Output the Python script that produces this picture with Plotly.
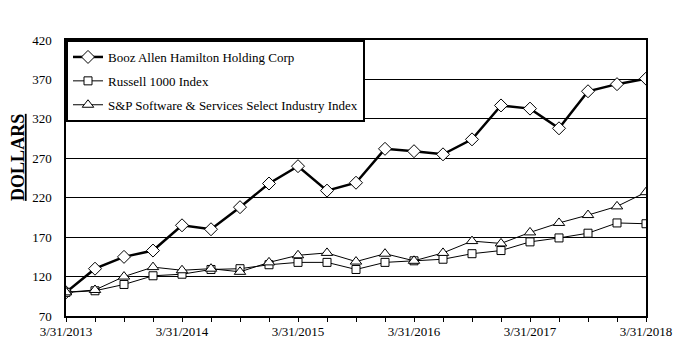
import plotly.graph_objects as go

dates = ["3/31/2013", "6/30/2013", "9/30/2013", "12/31/2013",
         "3/31/2014", "6/30/2014", "9/30/2014", "12/31/2014",
         "3/31/2015", "6/30/2015", "9/30/2015", "12/31/2015",
         "3/31/2016", "6/30/2016", "9/30/2016", "12/31/2016",
         "3/31/2017", "6/30/2017", "9/30/2017", "12/31/2017",
         "3/31/2018"]
booz = [100, 130, 145, 153, 185, 180, 208, 238, 260, 229, 239,
        282, 279, 275, 294, 337, 333, 308, 355, 364, 371]
russell = [100, 102, 110, 121, 123, 129, 130, 135, 138, 138, 129,
           138, 140, 142, 149, 153, 164, 169, 175, 188, 187]
snp = [100, 103, 120, 132, 128, 130, 126, 138, 147, 150, 139,
       149, 140, 150, 165, 162, 176, 188, 198, 209, 227]
year_labels = ["3/31/2013", "3/31/2014", "3/31/2015", "3/31/2016", "3/31/2017", "3/31/2018"]
y_ticks = [70, 120, 170, 220, 270, 320, 370, 420]

FONT = "Liberation Serif, Times New Roman, serif"

fig = go.Figure()
fig.add_trace(go.Scatter(
    x=dates, y=booz, mode="lines+markers", name="Booz Allen Hamilton Holding Corp",
    line=dict(color="black", width=2.5), legendgroup="a",
    marker=dict(symbol="diamond", size=10, color="white", line=dict(color="black", width=1))))
fig.add_trace(go.Scatter(
    x=dates, y=russell, mode="lines+markers", name="Russell 1000 Index",
    line=dict(color="black", width=1), legendgroup="b",
    marker=dict(symbol="square", size=8, color="white", line=dict(color="black", width=1))))
fig.add_trace(go.Scatter(
    x=dates, y=snp, mode="lines+markers", name="S&P Software & Services Select Industry Index",
    line=dict(color="black", width=1), legendgroup="c",
    marker=dict(symbol="triangle-up", size=10, color="white", line=dict(color="black", width=1))))

fig.update_layout(
    width=676, height=348,
    margin=dict(l=58, r=38, t=32, b=40, autoexpand=False),
    paper_bgcolor="white", plot_bgcolor="white",
    font=dict(family=FONT, size=13, color="black"),
    showlegend=True,
    legend=dict(x=0, y=1, xanchor="left", yanchor="top",
                bgcolor="white", bordercolor="black", borderwidth=2,
                font=dict(family=FONT, size=13, color="black"),
                tracegroupgap=4, traceorder="grouped"),
    xaxis=dict(type="category", categoryorder="array", categoryarray=dates,
               range=[0, len(dates) - 1], automargin=False,
               tickmode="array", tickvals=dates,
               ticktext=[d if d in year_labels else "" for d in dates],
               ticks="outside", ticklen=4, tickcolor="black", tickwidth=1,
               ticklabelstandoff=-1,
               showline=True, linecolor="black", linewidth=1.5, mirror=True,
               showgrid=False, zeroline=False,
               tickfont=dict(family=FONT, size=13, color="black")),
    yaxis=dict(range=[70, 420], tickmode="array", tickvals=y_ticks,
               showgrid=True, gridcolor="black", gridwidth=1, automargin=False,
               showline=True, linecolor="black", linewidth=1.5, mirror=True,
               ticks="", ticklabelstandoff=10, zeroline=False,
               tickfont=dict(family=FONT, size=13, color="black")),
    annotations=[dict(text="<b><u>DOLLARS</u></b>", xref="paper", yref="paper",
                      x=-0.083, y=0.576, xanchor="center", yanchor="middle",
                      showarrow=False, textangle=-90,
                      font=dict(family=FONT, size=18, color="black"))],
)

fig.write_html("out.html")
